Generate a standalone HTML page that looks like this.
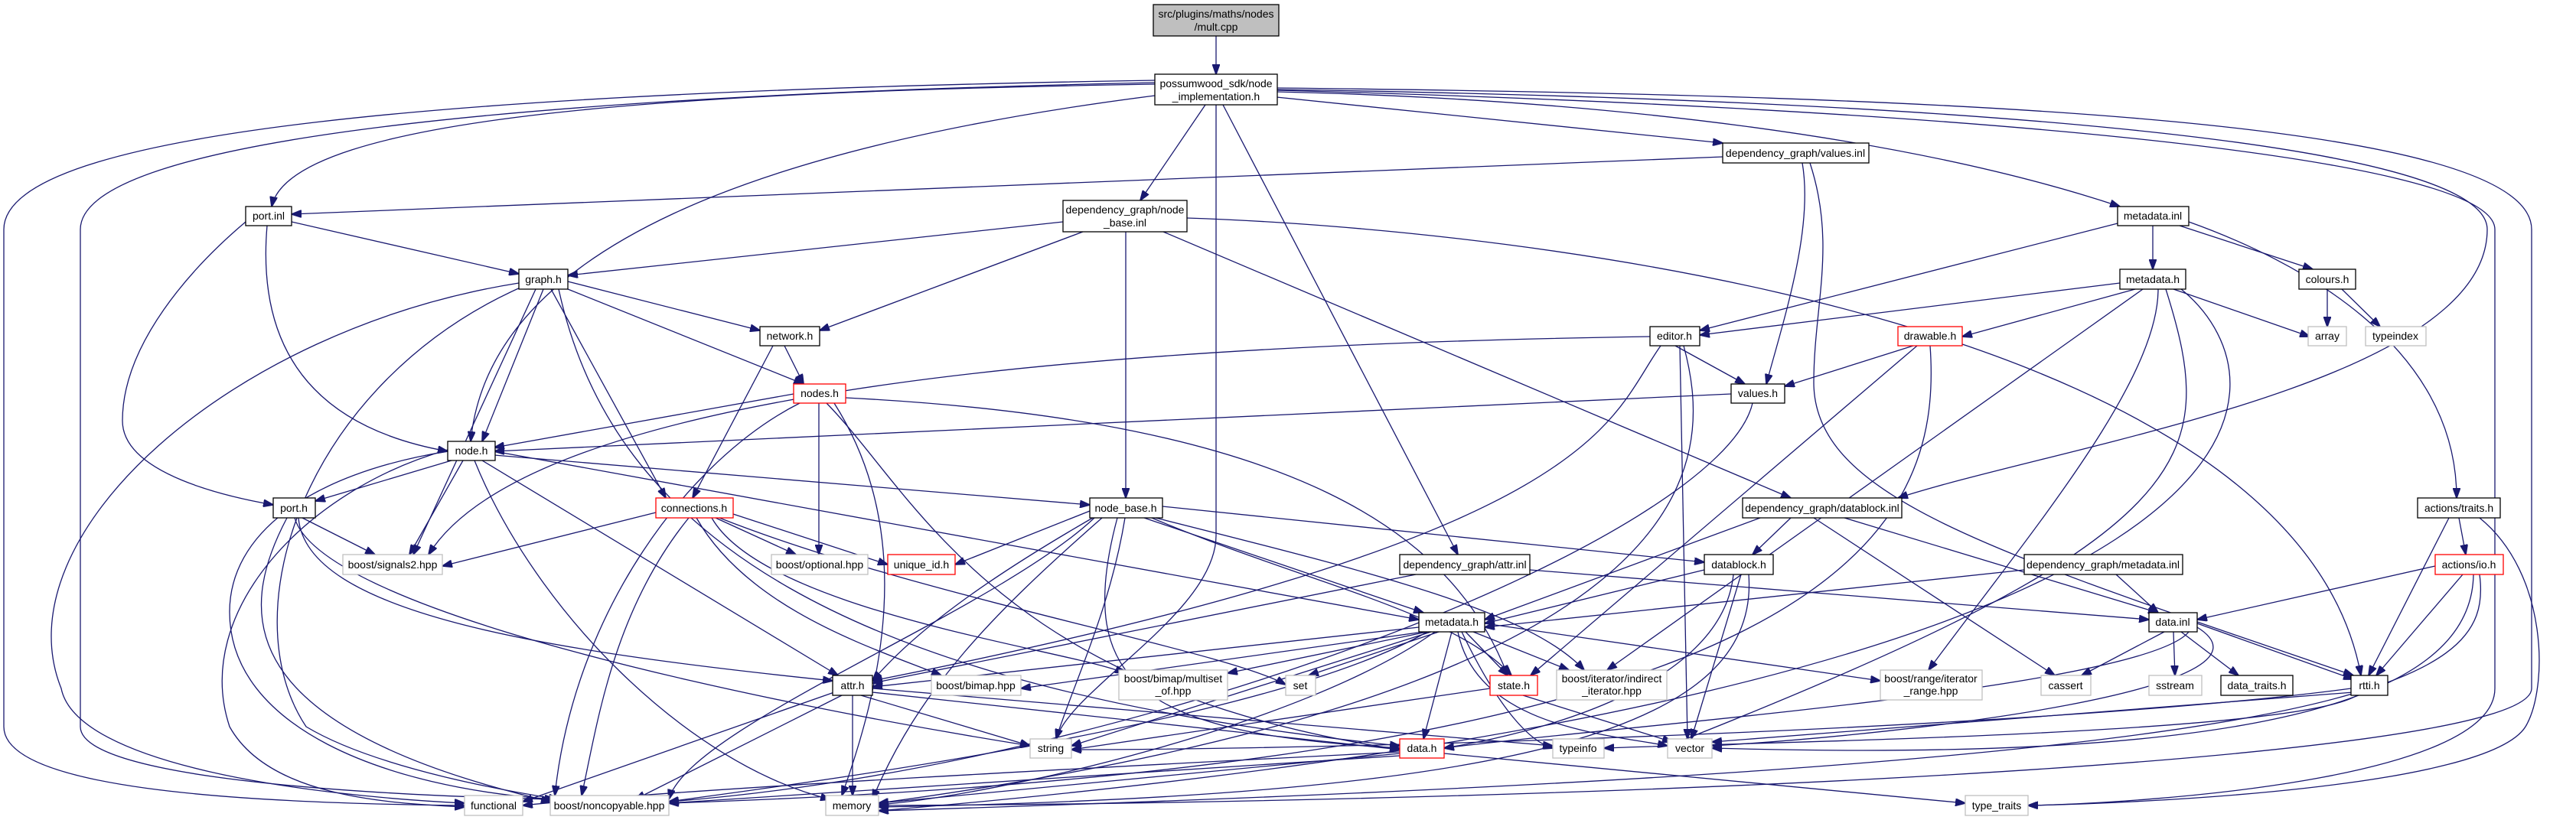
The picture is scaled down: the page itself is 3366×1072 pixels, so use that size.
<!DOCTYPE html>
<html><head><meta charset="utf-8"><style>
html,body{margin:0;padding:0;background:#fff;width:3366px;height:1072px;overflow:hidden}
svg{display:block}
text{font-family:"Liberation Sans",sans-serif;font-size:14px;fill:#000;text-anchor:middle}
.e{fill:none;stroke:#191970;stroke-width:1.3}
.n{fill:#fff;stroke:#000;stroke-width:1.3}
.g{fill:#fff;stroke:#bfbfbf;stroke-width:1.3}
.r{fill:#fff;stroke:#ff0000;stroke-width:1.3}
</style></head><body>
<svg width="3366" height="1072" viewBox="0 0 3366 1072" xmlns="http://www.w3.org/2000/svg">
<defs><marker id="a" markerUnits="userSpaceOnUse" markerWidth="14" markerHeight="10" refX="13" refY="5" orient="auto"><path d="M0,0 L14,5 L0,10 z" fill="#191970" stroke="#191970"/></marker></defs>
<g class="e" marker-end="url(#a)">
<path d="M1589 47 L1589 97"/>
<path d="M1509 110 C900 120,380 150,355 270"/>
<path d="M1509 105 C600 120,5 170,5 300 L5 950 C5 1030 300 1050 607 1053"/>
<path d="M1509 108 C700 125,105 180,105 300 L105 950 C105 1020 500 1040 725 1045"/>
<path d="M1509 125 C1000 190,640 320,615 577"/>
<path d="M1575 137 L1490 262"/>
<path d="M1589 137 L1589 700 C1589 800 1400 900 1380 966"/>
<path d="M1598 137 L1905 725"/>
<path d="M1668 127 L2251 187"/>
<path d="M1668 120 C2100 130,2500 180,2770 270"/>
<path d="M1668 117 C2500 130,3250 180,3250 300 C3250 500,2700 580,2480 651"/>
<path d="M1668 115 C2600 125,3308 160,3308 300 L3308 900 C3308 1000 2000 1050 1148 1053"/>
<path d="M1668 118 C2500 140,3260 200,3260 300 L3260 900 C3260 1020 2800 1050 2650 1053"/>
<path d="M381 290 L678 358"/>
<path d="M349 295 C340 400,360 550,585 590"/>
<path d="M321 290 C250 350,160 450,160 550 C160 620,300 650,357 660"/>
<path d="M2251 205 L381 280"/>
<path d="M2355 213 C2370 300,2330 420,2308 502"/>
<path d="M2365 213 C2400 320,2370 400,2370 500 C2370 650,2600 720,3075 883"/>
<path d="M1389 290 L742 360"/>
<path d="M1415 303 L1071 432"/>
<path d="M1471 303 L1471 651"/>
<path d="M1520 303 L2340 651"/>
<path d="M1551 285 C2000 300,3000 420,3085 883"/>
<path d="M2767 292 L2221 432"/>
<path d="M2813 295 L2813 352"/>
<path d="M2848 295 L3022 352"/>
<path d="M2860 290 C3000 340,3210 450,3210 651"/>
<path d="M2770 370 L2221 438"/>
<path d="M2790 378 L2564 440"/>
<path d="M2840 378 L3018 440"/>
<path d="M2800 378 L2100 876"/>
<path d="M2820 378 C2820 500,2650 700,2520 876"/>
<path d="M2830 378 C2900 600,2880 700,2180 975"/>
<path d="M2850 378 C3000 500,3040 900,1148 1060"/>
<path d="M3041 378 L3041 427"/>
<path d="M3060 378 L3110 427"/>
<path d="M2189 452 L2280 502"/>
<path d="M2156 440 C1500 450,700 500,560 725"/>
<path d="M2170 452 C2100 550,2100 700,1140 890"/>
<path d="M2195 452 L2205 966"/>
<path d="M2200 452 C2240 600,2250 900,1148 1050"/>
<path d="M2500 452 L2332 505"/>
<path d="M2505 452 L2000 883"/>
<path d="M2522 452 C2540 700,2400 1000,874 1050"/>
<path d="M2262 515 L646 590"/>
<path d="M2290 527 C2250 700,1500 1000,874 1048"/>
<path d="M742 368 L993 432"/>
<path d="M742 378 L1050 502"/>
<path d="M710 378 L630 577"/>
<path d="M720 378 L870 651"/>
<path d="M700 378 L540 725"/>
<path d="M678 370 C300 430,0 700,80 900 C100 1000 400 1040 607 1050"/>
<path d="M682 375 C400 500,300 800,400 950 C500 1010 700 1040 730 1045"/>
<path d="M730 378 C800 700,1100 900,1829 975"/>
<path d="M1025 452 L1050 502"/>
<path d="M1010 452 L905 651"/>
<path d="M1037 515 L646 585"/>
<path d="M1070 527 L1070 725"/>
<path d="M1080 527 C1200 650,1300 900,1829 980"/>
<path d="M1105 520 C1700 550,1900 700,1970 883"/>
<path d="M1045 527 C900 600,750 800,725 1040"/>
<path d="M1090 527 C1200 700,1150 900,1100 1040"/>
<path d="M590 602 L412 655"/>
<path d="M605 602 L535 725"/>
<path d="M646 595 L1424 660"/>
<path d="M646 590 L1854 810"/>
<path d="M630 602 L1095 883"/>
<path d="M620 602 C700 800,900 1000,1085 1045"/>
<path d="M585 590 C400 620,300 700,300 800 C300 950 500 1030 725 1045"/>
<path d="M585 588 C400 640,250 800,300 950 C350 1040 500 1050 607 1055"/>
<path d="M395 677 L490 725"/>
<path d="M390 677 C400 800,700 850,1088 890"/>
<path d="M375 677 C310 800,300 950,720 1048"/>
<path d="M385 677 C420 800,1000 920,1346 975"/>
<path d="M857 670 L578 740"/>
<path d="M935 677 L1040 725"/>
<path d="M958 672 L1160 738"/>
<path d="M900 677 C800 800,780 950,760 1040"/>
<path d="M910 677 C980 800,1150 850,1230 883"/>
<path d="M930 677 C1000 800,1400 850,1470 880"/>
<path d="M940 677 C1200 780,1600 850,1680 895"/>
<path d="M1424 668 L1248 738"/>
<path d="M1519 662 L2227 735"/>
<path d="M1495 677 L1860 801"/>
<path d="M1505 677 C1700 760,1900 800,1975 883"/>
<path d="M1510 677 C1800 750,2000 800,2070 876"/>
<path d="M1470 677 C1450 800,1400 900,1380 966"/>
<path d="M1460 677 C1400 900,1500 960,1829 978"/>
<path d="M1440 677 C1300 800,1200 900,1140 1045"/>
<path d="M1430 677 C1300 800,900 950,874 1045"/>
<path d="M1440 670 C1300 750,1200 820,1140 890"/>
<path d="M1850 751 L1140 893"/>
<path d="M1999 745 L2808 810"/>
<path d="M2340 677 L2290 725"/>
<path d="M2410 677 L2820 801"/>
<path d="M2370 677 L2685 883"/>
<path d="M2300 677 L1940 810"/>
<path d="M2227 745 L1940 815"/>
<path d="M2275 751 L2210 966"/>
<path d="M2265 751 C2250 900,2000 960,1887 978"/>
<path d="M2285 751 C2300 950,2000 1040,1148 1055"/>
<path d="M2765 751 L2820 801"/>
<path d="M2645 745 L1940 820"/>
<path d="M3182 740 L2871 810"/>
<path d="M3218 751 L3105 883"/>
<path d="M3232 751 C3230 900,3000 1000,2237 978"/>
<path d="M3240 751 C3260 900,3100 1000,1148 1060"/>
<path d="M3213 677 L3222 725"/>
<path d="M3200 677 L3095 883"/>
<path d="M3240 677 C3330 750,3330 900,3300 950 C3250 1030 2800 1050 2650 1053"/>
<path d="M1854 820 L1140 898"/>
<path d="M1860 826 L1334 900"/>
<path d="M1865 826 L1604 880"/>
<path d="M1880 826 L1710 883"/>
<path d="M1915 826 L1970 883"/>
<path d="M1925 826 L2050 876"/>
<path d="M1940 815 L2457 890"/>
<path d="M1897 826 L1860 966"/>
<path d="M1870 826 L1400 975"/>
<path d="M1905 826 C1930 950,2100 960,2179 975"/>
<path d="M1875 826 C1700 950,1300 1040,1148 1052"/>
<path d="M1865 826 C1650 950,1000 1030,874 1048"/>
<path d="M1910 826 C1960 930,2000 970,2029 978"/>
<path d="M1947 900 L1400 980"/>
<path d="M1990 909 L2185 970"/>
<path d="M2828 826 L2720 883"/>
<path d="M2840 826 L2842 883"/>
<path d="M2850 826 L2925 883"/>
<path d="M2871 815 L3075 888"/>
<path d="M2871 820 C3000 900,2500 960,2237 975"/>
<path d="M2860 826 C2800 900,2100 950,1887 978"/>
<path d="M3072 900 C2700 950,1800 980,1400 980"/>
<path d="M3080 909 C3000 960,2300 970,2096 978"/>
<path d="M3075 905 L2237 970"/>
<path d="M1829 985 L1148 1050"/>
<path d="M1829 988 L874 1050"/>
<path d="M1887 985 L2568 1050"/>
<path d="M1829 983 C1500 1000,900 1030,683 1053"/>
<path d="M1125 909 L1346 975"/>
<path d="M1140 905 L1829 980"/>
<path d="M1114 909 L1114 1040"/>
<path d="M1100 909 L830 1045"/>
<path d="M1090 905 L683 1048"/>
<path d="M1140 900 L2029 975"/>
</g>
<g>
<rect x="1507" y="6" width="164" height="41" fill="#bfbfbf" stroke="#000" stroke-width="1.3"/>
<text x="1589" y="23">src/plugins/maths/nodes</text><text x="1589" y="40">/mult.cpp</text>
<rect class="n" x="1509" y="97" width="160" height="40"/>
<text x="1589" y="114">possumwood_sdk/node</text><text x="1589" y="131">_implementation.h</text>
<rect class="n" x="1389" y="262" width="162" height="41"/>
<text x="1470" y="279">dependency_graph/node</text><text x="1470" y="296">_base.inl</text>
<rect class="n" x="321" y="270" width="60" height="25"/><text x="351" y="287">port.inl</text>
<rect class="n" x="678" y="352" width="64" height="26"/><text x="710" y="370">graph.h</text>
<rect class="n" x="993" y="427" width="78" height="25"/><text x="1032" y="444">network.h</text>
<rect class="r" x="1037" y="502" width="68" height="25"/><text x="1071" y="519">nodes.h</text>
<rect class="n" x="2251" y="187" width="191" height="26"/><text x="2346" y="205">dependency_graph/values.inl</text>
<rect class="n" x="2767" y="270" width="93" height="25"/><text x="2813" y="287">metadata.inl</text>
<rect class="n" x="2770" y="352" width="86" height="26"/><text x="2813" y="370">metadata.h</text>
<rect class="n" x="3004" y="352" width="74" height="26"/><text x="3041" y="370">colours.h</text>
<rect class="g" x="3016" y="427" width="50" height="25"/><text x="3041" y="444">array</text>
<rect class="g" x="3091" y="427" width="79" height="25"/><text x="3130" y="444">typeindex</text>
<rect class="n" x="2156" y="427" width="65" height="25"/><text x="2188" y="444">editor.h</text>
<rect class="r" x="2480" y="427" width="84" height="25"/><text x="2522" y="444">drawable.h</text>
<rect class="n" x="2262" y="502" width="70" height="25"/><text x="2297" y="519">values.h</text>
<rect class="n" x="585" y="577" width="62" height="25"/><text x="616" y="594">node.h</text>
<rect class="n" x="357" y="651" width="55" height="26"/><text x="384" y="669">port.h</text>
<rect class="r" x="857" y="651" width="101" height="26"/><text x="907" y="669">connections.h</text>
<rect class="n" x="1424" y="651" width="95" height="26"/><text x="1471" y="669">node_base.h</text>
<rect class="n" x="2277" y="651" width="208" height="26"/><text x="2381" y="669">dependency_graph/datablock.inl</text>
<rect class="n" x="3159" y="651" width="108" height="26"/><text x="3213" y="669">actions/traits.h</text>
<rect class="g" x="448" y="725" width="130" height="26"/><text x="513" y="743">boost/signals2.hpp</text>
<rect class="g" x="1008" y="725" width="126" height="26"/><text x="1071" y="743">boost/optional.hpp</text>
<rect class="r" x="1160" y="725" width="88" height="26"/><text x="1204" y="743">unique_id.h</text>
<rect class="n" x="1829" y="725" width="170" height="26"/><text x="1914" y="743">dependency_graph/attr.inl</text>
<rect class="n" x="2227" y="725" width="90" height="26"/><text x="2272" y="743">datablock.h</text>
<rect class="n" x="2645" y="725" width="207" height="26"/><text x="2748" y="743">dependency_graph/metadata.inl</text>
<rect class="r" x="3182" y="725" width="89" height="26"/><text x="3226" y="743">actions/io.h</text>
<rect class="n" x="1854" y="801" width="86" height="25"/><text x="1897" y="818">metadata.h</text>
<rect class="n" x="2808" y="801" width="63" height="25"/><text x="2839" y="818">data.inl</text>
<rect class="n" x="1088" y="883" width="52" height="26"/><text x="1114" y="901">attr.h</text>
<rect class="g" x="1217" y="883" width="117" height="26"/><text x="1275" y="901">boost/bimap.hpp</text>
<rect class="g" x="1462" y="876" width="142" height="39"/><text x="1533" y="892">boost/bimap/multiset</text><text x="1533" y="908">_of.hpp</text>
<rect class="g" x="1680" y="883" width="39" height="26"/><text x="1699" y="901">set</text>
<rect class="r" x="1947" y="883" width="62" height="26"/><text x="1978" y="901">state.h</text>
<rect class="g" x="2034" y="876" width="144" height="39"/><text x="2106" y="892">boost/iterator/indirect</text><text x="2106" y="908">_iterator.hpp</text>
<rect class="g" x="2457" y="876" width="133" height="39"/><text x="2523" y="892">boost/range/iterator</text><text x="2523" y="908">_range.hpp</text>
<rect class="g" x="2667" y="883" width="65" height="26"/><text x="2699" y="901">cassert</text>
<rect class="g" x="2808" y="883" width="69" height="26"/><text x="2842" y="901">sstream</text>
<rect class="n" x="2902" y="883" width="94" height="26"/><text x="2949" y="901">data_traits.h</text>
<rect class="n" x="3072" y="883" width="48" height="26"/><text x="3096" y="901">rtti.h</text>
<rect class="g" x="1346" y="966" width="54" height="25"/><text x="1373" y="983">string</text>
<rect class="r" x="1829" y="966" width="58" height="25"/><text x="1858" y="983">data.h</text>
<rect class="g" x="2029" y="966" width="67" height="25"/><text x="2062" y="983">typeinfo</text>
<rect class="g" x="2179" y="966" width="58" height="25"/><text x="2208" y="983">vector</text>
<rect class="g" x="607" y="1040" width="76" height="26"/><text x="645" y="1058">functional</text>
<rect class="g" x="719" y="1040" width="155" height="26"/><text x="796" y="1058">boost/noncopyable.hpp</text>
<rect class="g" x="1079" y="1040" width="69" height="26"/><text x="1113" y="1058">memory</text>
<rect class="g" x="2568" y="1040" width="82" height="26"/><text x="2609" y="1058">type_traits</text>
</g>
</svg>
</body></html>
